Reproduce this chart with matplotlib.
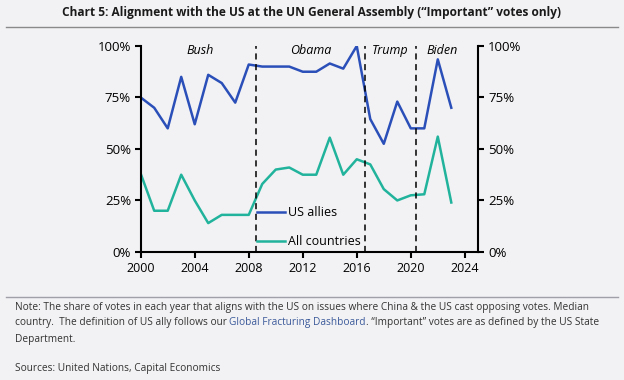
import matplotlib
matplotlib.use("Agg")
import matplotlib.pyplot as plt
from matplotlib.ticker import PercentFormatter

plt.rcParams['font.family'] = ['Open Sans', 'DejaVu Sans']

years = list(range(2000, 2024))
us_allies = [75, 70, 60, 85, 62, 86, 82, 72.5, 91, 90, 90, 90, 87.5, 87.5, 91.5, 89, 100,
             64.5, 52.5, 73, 60, 60, 93.5, 70]
all_countries = [38, 20, 20, 37.5, 25, 14, 18, 18, 18, 33, 40, 41, 37.5, 37.5, 55.5, 37.5, 45,
                 42.5, 30.5, 25, 27.5, 28, 56, 24]
term_breaks = [2008.55, 2016.6, 2020.4]
presidents = ['Bush', 'Obama', 'Trump', 'Biden']
president_x = [2004.4, 2012.6, 2018.5, 2022.3]

BG = '#f2f2f4'
BLUE = '#2b4fb8'
TEAL = '#22b39c'

fig = plt.figure(figsize=(6.24, 3.8), dpi=100, facecolor=BG)
ax = fig.add_axes([0.2255, 0.337, 0.541, 0.542], facecolor=BG)

ax.plot(years, us_allies, color=BLUE, lw=1.8, label='US allies')
ax.plot(years, all_countries, color=TEAL, lw=1.8, label='All countries')
for xb in term_breaks:
    ax.axvline(xb, color='black', lw=1.1, ls=(0, (4, 3)))
for name, xp in zip(presidents, president_x):
    ax.text(xp, 98, name, style='italic', fontsize=9, ha='center', va='center')

ax.set_xlim(2000, 2025)
ax.set_ylim(0, 100)
ax.set_xticks(range(2000, 2025, 4))
ax.set_yticks([0, 25, 50, 75, 100])
ax.yaxis.set_major_formatter(PercentFormatter(decimals=0))
ax.tick_params(labelsize=9, length=4, width=1.5, direction='out', pad=3)
ax.tick_params(axis='y', labelright=True, right=True, labelsize=9.5)
for s in ['left', 'bottom', 'right']:
    ax.spines[s].set_linewidth(1.5)
ax.spines['top'].set_visible(False)

ax.legend(loc='lower left', bbox_to_anchor=(0.33, -0.005), frameon=False, fontsize=9,
          handlelength=2.2, handletextpad=0.3, labelspacing=1.25, borderaxespad=0)

fig.text(0.5, 0.968, 'Chart 5: Alignment with the US at the UN General Assembly (\u201cImportant\u201d votes only)',
         ha='center', va='center', fontsize=8.6, fontweight='bold', color='#1a1a1a')
fig.add_artist(plt.Line2D([0.01, 0.99], [0.929, 0.929], color='#8a8a8a', lw=1))
fig.add_artist(plt.Line2D([0.01, 0.99], [0.218, 0.218], color='#a0a0a8', lw=1))

FS = 7.3
note_kw = dict(fontsize=FS, color='#333333', va='center')
fig.text(0.024, 0.192, 'Note: The share of votes in each year that aligns with the US on issues where China & the US cast '
         'opposing votes. Median', **note_kw)
t = fig.text(0.024, 0.150, 'country.  The definition of US ally follows our ', **note_kw)
fig.canvas.draw()
r = fig.canvas.get_renderer()
bb = t.get_window_extent(r)
t2 = fig.text(bb.x1 / fig.bbox.width, 0.150, 'Global Fracturing Dashboard', fontsize=FS,
              color='#3b5a9a', va='center')
bb2 = t2.get_window_extent(r)
fig.text(bb2.x1 / fig.bbox.width, 0.150, '. \u201cImportant\u201d votes are as defined by the US State', **note_kw)
fig.text(0.024, 0.106, 'Department.', **note_kw)
fig.text(0.024, 0.029, 'Sources: United Nations, Capital Economics', **note_kw)

fig.savefig('out.png', dpi=100, facecolor=BG)
